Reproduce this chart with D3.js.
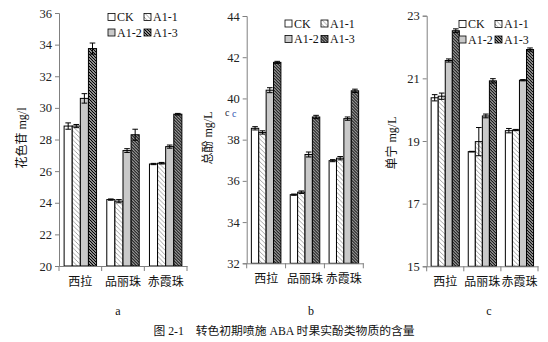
<!DOCTYPE html>
<html><head><meta charset="utf-8">
<script src="https://cdn.jsdelivr.net/npm/d3@7"></script>
<style>
body{margin:0;background:#fff;}
svg{display:block;}
text{font-family:"Liberation Serif","Noto Sans CJK SC",serif;}
</style></head>
<body>
<svg id="chart" width="548" height="342"></svg>
<script>
const categories = ["西拉", "品丽珠", "赤霞珠"];
const seriesNames = ["CK", "A1-1", "A1-2", "A1-3"];

// values per category, in series order CK, A1-1, A1-2, A1-3
const anthocyanin    = [[28.85, 28.85, 30.6, 33.75], [24.2, 24.1, 27.3, 28.3], [26.45, 26.5, 27.55, 29.6]];
const anthocyaninErr = [[0.2, 0.1, 0.3, 0.35], [0.04, 0.1, 0.12, 0.35], [0.04, 0.05, 0.1, 0.05]];
const phenol         = [[38.55, 38.35, 40.4, 41.75], [35.33, 35.45, 37.28, 39.1], [36.98, 37.1, 39.02, 40.37]];
const phenolErr      = [[0.08, 0.08, 0.12, 0.05], [0.03, 0.06, 0.12, 0.08], [0.05, 0.08, 0.08, 0.08]];
const tannin         = [[20.38, 20.43, 21.57, 22.52], [18.66, 18.98, 19.8, 20.92], [19.33, 19.35, 20.94, 21.92]];
const tanninErr      = [[0.1, 0.1, 0.05, 0.06], [0.01, 0.45, 0.06, 0.07], [0.07, 0.02, 0.02, 0.05]];

const ticksA = [20, 22, 24, 26, 28, 30, 32, 34, 36];
const ticksB = [32, 34, 36, 38, 40, 42, 44];
const ticksC = [15, 17, 19, 21, 23];

const yLabels = ["花色苷 mg/l", "总酚 mg/L", "单宁 mg/L"];
const panelLetters = ["a", "b", "c"];
const caption = "图 2-1　转色初期喷施 ABA 时果实酚类物质的含量";

const svg = d3.select("#chart");
const defs = svg.append("defs");

// patterns
const p1 = defs.append("pattern").attr("id", "hatchLight").attr("patternUnits", "userSpaceOnUse")
  .attr("width", 4.5).attr("height", 4.5);
p1.append("rect").attr("width", 4.5).attr("height", 4.5).attr("fill", "#fff");
p1.append("path").attr("d", "M-1,-1L5.5,5.5M-1,3.5L1,5.5M3.5,-1L5.5,1").attr("stroke", "#999").attr("stroke-width", 0.9);

const p3 = defs.append("pattern").attr("id", "hatchDark").attr("patternUnits", "userSpaceOnUse")
  .attr("width", 3).attr("height", 3);
p3.append("rect").attr("width", 3).attr("height", 3).attr("fill", "#fff");
p3.append("path").attr("d", "M-1,-1L4,4M-1,2L1,4M2,-1L4,1").attr("stroke", "#000").attr("stroke-width", 1.3);

const fills = ["#ffffff", "url(#hatchLight)", "#c9c9c9", "url(#hatchDark)"];

const panels = [
  {vals: anthocyanin, errs: anthocyaninErr, ticks: ticksA, domain: [20, 36], x0: 59, x1: 187, top: 13, bot: 266,
   label: yLabels[0], labelX: 22, labelY: 138, legX: 108, legY: 17, letter: panelLetters[0], letterX: 118},
  {vals: phenol, errs: phenolErr, ticks: ticksB, domain: [32, 44], x0: 246.7, x1: 363.3, top: 16, bot: 263.3,
   label: yLabels[1], labelX: 208, labelY: 138, legX: 285, legY: 23.5, letter: panelLetters[1], letterX: 311},
  {vals: tannin, errs: tanninErr, ticks: ticksC, domain: [15, 23], x0: 426.7, x1: 538, top: 15.7, bot: 266.3,
   label: yLabels[2], labelX: 392, labelY: 143, legX: 459, legY: 24, letter: panelLetters[2], letterX: 489}
];

panels.forEach(p => {
  const g = svg.append("g");
  const y = d3.scaleLinear().domain(p.domain).range([p.bot, p.top]);
  const x = d3.scaleBand().domain(categories).range([p.x0, p.x1]).padding(0);
  const bw = x.bandwidth();
  const xs = d3.scaleBand().domain(seriesNames).range([bw * 0.12, bw * 0.88]).padding(0);

  // bars
  categories.forEach((c, ci) => {
    const cg = g.append("g").attr("transform", `translate(${x(c)},0)`);
    seriesNames.forEach((s, si) => {
      const v = p.vals[ci][si];
      cg.append("rect")
        .attr("x", xs(s)).attr("y", y(v))
        .attr("width", xs.bandwidth()).attr("height", y(p.domain[0]) - y(v))
        .attr("fill", fills[si]).attr("stroke", "#000").attr("stroke-width", 1);
    });
    seriesNames.forEach((s, si) => {
      const v = p.vals[ci][si], e = p.errs[ci][si];
      const cx = xs(s) + xs.bandwidth() / 2;
      const hw = 2.8;
      const eg = cg.append("g").attr("stroke", "#000").attr("stroke-width", 1);
      eg.append("line").attr("x1", cx).attr("x2", cx).attr("y1", y(v + e)).attr("y2", y(v - e));
      eg.append("line").attr("x1", cx - hw).attr("x2", cx + hw).attr("y1", y(v + e)).attr("y2", y(v + e));
      eg.append("line").attr("x1", cx - hw).attr("x2", cx + hw).attr("y1", y(v - e)).attr("y2", y(v - e));
    });
  });

  // y axis
  const ya = g.append("g").attr("transform", `translate(${p.x0},0)`)
    .call(d3.axisLeft(y).tickValues(p.ticks).tickSize(4).tickPadding(3).tickFormat(d3.format("d")));
  ya.select(".domain").attr("stroke", "#808080");
  ya.selectAll(".tick line").attr("stroke", "#808080");
  ya.selectAll(".tick text").attr("font-size", 12.5).attr("fill", "#222")
    .style("font-family", "'Liberation Serif',serif");

  // x axis with ticks at category boundaries
  const xa = g.append("g").attr("transform", `translate(0,${p.bot})`)
    .call(d3.axisBottom(x).tickSize(0).tickPadding(11));
  xa.select(".domain").attr("stroke", "#808080");
  xa.selectAll(".tick text").attr("font-size", 12).attr("fill", "#111")
    .style("font-family", "'Noto Sans CJK SC',sans-serif");
  const bounds = categories.map(c => x(c)).concat([p.x1]);
  xa.selectAll(".bound").data(bounds).join("line").attr("class", "bound")
    .attr("x1", d => d).attr("x2", d => d).attr("y1", 0).attr("y2", 5).attr("stroke", "#808080");

  // y label
  g.append("text").attr("transform", `translate(${p.labelX},${p.labelY}) rotate(-90)`)
    .attr("text-anchor", "middle").attr("dominant-baseline", "central")
    .attr("font-size", 12).attr("fill", "#111").text(p.label);

  // legend
  const lg = g.append("g").attr("transform", `translate(${p.legX},${p.legY})`);
  seriesNames.forEach((s, si) => {
    const col = si % 2, row = Math.floor(si / 2);
    const gx = col * 36, gy = row * 15.5;
    lg.append("rect").attr("x", gx).attr("y", gy - 3.5).attr("width", 7).attr("height", 7)
      .attr("fill", fills[si]).attr("stroke", "#000").attr("stroke-width", 0.8);
    lg.append("text").attr("x", gx + 9).attr("y", gy).attr("dominant-baseline", "central")
      .attr("font-size", 12).attr("fill", "#111").text(s);
  });

  // panel letter
  svg.append("text").attr("x", p.letterX).attr("y", 315).attr("text-anchor", "middle")
    .attr("font-size", 12).attr("fill", "#111").text(p.letter);
});

// stray marks in panel b
svg.append("text").attr("x", 225).attr("y", 116).attr("font-size", 10).attr("fill", "#223").text("c");
svg.append("text").attr("x", 232).attr("y", 117).attr("font-size", 10).attr("fill", "#2a4fb0").text("c");

// caption
svg.append("text").attr("x", 284).attr("y", 335).attr("text-anchor", "middle")
  .attr("font-size", 11.8).attr("fill", "#111").text(caption);
</script>
</body></html>
